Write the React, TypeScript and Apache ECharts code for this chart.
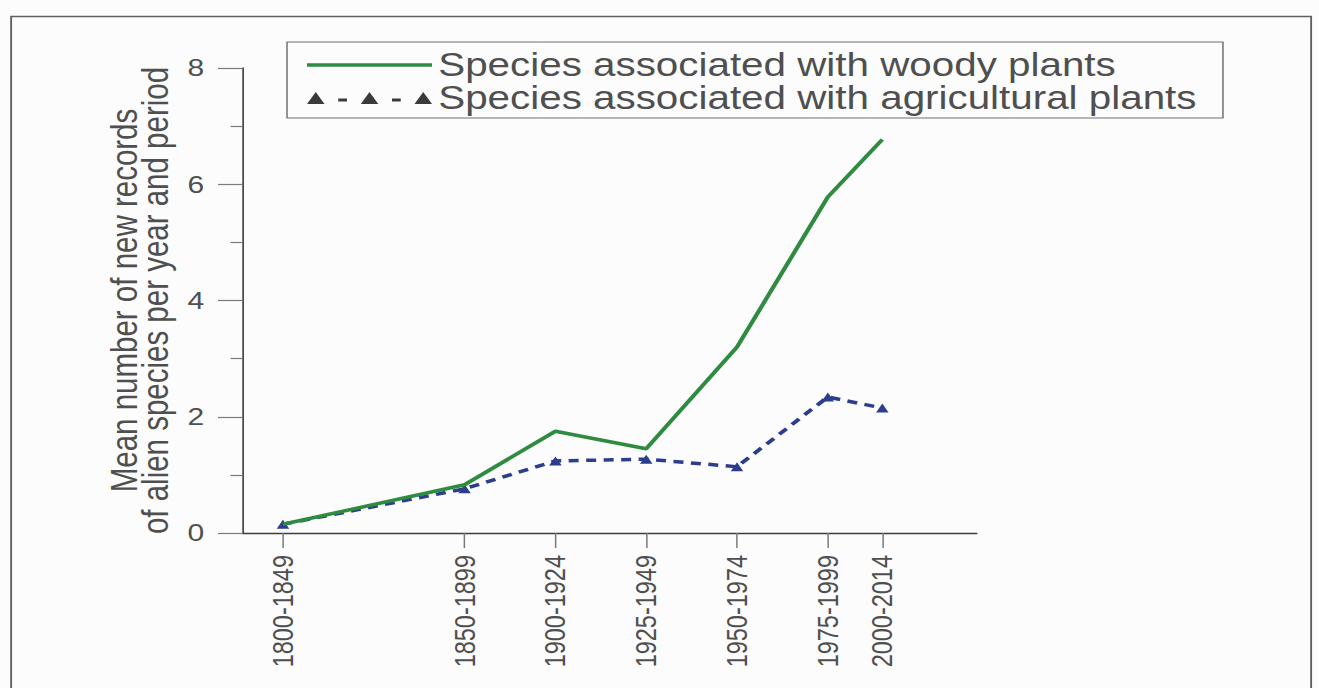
import React, { useEffect, useRef } from 'react';
import * as echarts from 'echarts';

// ---- data ----
const periods = ['1800-1849', '1850-1899', '1900-1924', '1925-1949', '1950-1974', '1975-1999', '2000-2014'];
const periodEndYears = [1849, 1899, 1924, 1949, 1974, 1999, 2014];
const woodyValues = [0.15, 0.83, 1.75, 1.45, 3.2, 5.78, 6.77];
const agriculturalValues = [0.15, 0.76, 1.24, 1.27, 1.14, 2.34, 2.15];
const seriesNames = ['Species associated with woody plants', 'Species associated with agricultural plants'];
const yTitleLines = ['Mean number of new records', 'of alien species per year and period'];

// the reference picture is stretched horizontally
const SX = 1.25;
const W = 1319 / SX;
const H = 688;

const woodyIcon = 'path://M0,0 L100,0 L100,3.6 L0,3.6 Z';
const agriIcon =
  'path://M0,13 L7,1 L14,13 Z M25,7.5 L32,7.5 L32,10.5 L25,10.5 Z M43,13 L50,1 L57,13 Z M68,7.5 L75,7.5 L75,10.5 L68,10.5 Z M86,13 L93,1 L100,13 Z';

export default function App() {
  const ref = useRef<HTMLDivElement>(null);
  useEffect(() => {
    if (!ref.current) return;
    const chart = echarts.init(ref.current, undefined, { renderer: 'svg' });
    const font = "'Liberation Sans', Arial, sans-serif";
    const textColor = '#4f4f4f';
    chart.setOption({
      animation: false,
      backgroundColor: '#fcfcfd',
      textStyle: { fontFamily: font },
      grid: { left: 243 / SX, right: W - 977 / SX, top: 68, bottom: H - 533, containLabel: false },
      legend: {
        orient: 'vertical',
        left: 287 / SX,
        top: 42,
        padding: [6.5, 21, 3.5, 16],
        itemGap: 0,
        itemWidth: 100,
        itemHeight: 14,
        borderColor: '#707070',
        borderWidth: 1.2,
        textStyle: { fontSize: 32.3, lineHeight: 33, color: textColor, fontFamily: font },
        data: [
          { name: seriesNames[0], icon: woodyIcon, itemStyle: { color: '#2e8b3f', borderWidth: 0 } },
          { name: seriesNames[1], icon: agriIcon, itemStyle: { color: '#3a3a3a', borderWidth: 0 } },
        ],
      },
      xAxis: {
        type: 'value',
        min: 1838,
        max: 2040,
        splitLine: { show: false },
        axisLine: { show: true, lineStyle: { color: '#3c3c3c', width: 1.3 } },
        axisTick: {
          show: true,
          customValues: periodEndYears,
          length: 15,
          lineStyle: { color: '#7a7a7a', width: 1.2 },
        },
        axisLabel: {
          customValues: periodEndYears,
          rotate: 90,
          margin: 22,
          fontSize: 23.5,
          color: textColor,
          fontFamily: font,
          formatter: (v: number) => {
            const i = periodEndYears.indexOf(Math.round(v));
            return i >= 0 ? periods[i] : '';
          },
        },
      },
      yAxis: {
        type: 'value',
        min: 0,
        max: 8,
        interval: 2,
        name: yTitleLines.join('\n'),
        nameLocation: 'middle',
        nameGap: 57,
        nameTextStyle: { fontSize: 29.5, lineHeight: 25, color: textColor, fontFamily: font },
        splitLine: { show: false },
        axisLine: { show: true, lineStyle: { color: '#3c3c3c', width: 1.3 } },
        axisTick: { show: true, length: 20, lineStyle: { color: '#7a7a7a', width: 1.2 } },
        minorTick: { show: true, splitNumber: 2, length: 10, lineStyle: { color: '#7a7a7a', width: 1.2 } },
        axisLabel: { margin: 31, fontSize: 24, color: textColor, fontFamily: font },
      },
      graphic: [
        {
          type: 'rect',
          left: 8 / SX,
          top: 14,
          shape: { width: 1300 / SX, height: 700 },
          style: { fill: 'none', stroke: '#606060', lineWidth: 1.5 },
          silent: true,
        },
      ],
      series: [
        {
          name: seriesNames[1],
          type: 'line',
          data: periodEndYears.map((x, i) => [x, agriculturalValues[i]]),
          symbol: 'triangle',
          symbolSize: [10, 9],
          itemStyle: { color: '#2b3d8c' },
          lineStyle: { color: '#2b3d8c', width: 3.5, type: [8, 6] },
          z: 2,
        },
        {
          name: seriesNames[0],
          type: 'line',
          data: periodEndYears.map((x, i) => [x, woodyValues[i]]),
          symbol: 'none',
          itemStyle: { color: '#2e8b3f' },
          lineStyle: { color: '#2e8b3f', width: 3.5 },
          z: 3,
        },
      ],
    });
    return () => chart.dispose();
  }, []);
  return (
    <div
      ref={ref}
      style={{
        position: 'absolute',
        left: 0,
        top: 0,
        width: W,
        height: H,
        transform: `scaleX(${SX})`,
        transformOrigin: '0 0',
      }}
    />
  );
}
